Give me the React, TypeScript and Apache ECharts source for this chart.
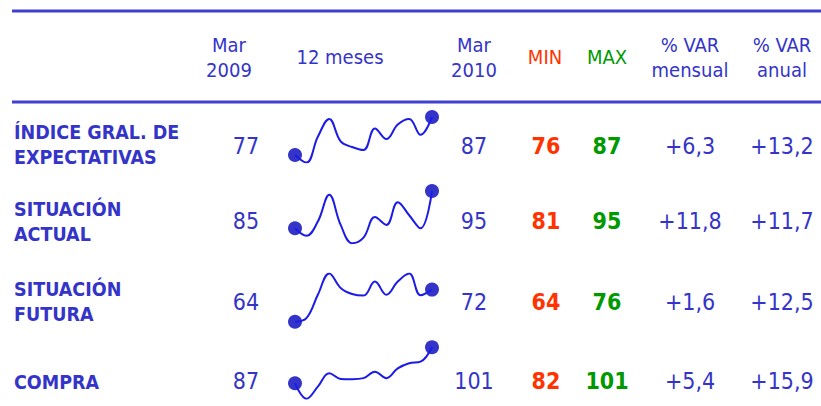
import React, { useEffect, useRef } from "react";
import * as echarts from "echarts";

const months = ["Mar 09", "Abr 09", "May 09", "Jun 09", "Jul 09", "Ago 09", "Sep 09", "Oct 09", "Nov 09", "Dic 09", "Ene 10", "Feb 10", "Mar 10"];
const indiceGeneral = [77, 75, 81.8, 86.5, 80.6, 79.1, 78.3, 84, 81.2, 85, 86.5, 82.3, 87];
const situacionActual = [85, 83, 86.8, 94, 85.9, 81, 82.5, 88, 85.9, 92, 88.5, 85, 95];
const situacionFutura = [64, 64.9, 70.7, 76, 72.4, 70.9, 70.5, 74, 70.7, 74, 76, 70.6, 72];
const compra = [87, 81, 85.7, 90.9, 88.7, 88.6, 89, 91.5, 89, 92.8, 94.8, 95.4, 101];

const rowLabels = ["ÍNDICE GRAL. DE\nEXPECTATIVAS", "SITUACIÓN\nACTUAL", "SITUACIÓN\nFUTURA", "COMPRA"];
const mar2009 = ["77", "85", "64", "87"];
const mar2010 = ["87", "95", "72", "101"];
const minVals = ["76", "81", "64", "82"];
const maxVals = ["87", "95", "76", "101"];
const varMensual = ["+6,3", "+11,8", "+1,6", "+5,4"];
const varAnual = ["+13,2", "+11,7", "+12,5", "+15,9"];
const headers = ["Mar\n2009", "12 meses", "Mar\n2010", "MIN", "MAX", "% VAR\nmensual", "% VAR\nanual"];

const BLUE = "#3434c8";
const LINE = "#1c1ce6";
const RED = "#ff3300";
const GREEN = "#009900";
const FONT = "'DejaVu Sans Condensed', 'DejaVu Sans', sans-serif";

export default function App() {
  const ref = useRef<HTMLDivElement>(null);
  useEffect(() => {
    document.body.style.margin = "0";
    const chart = echarts.init(ref.current!, null, { renderer: "svg" });
    const sparks = [indiceGeneral, situacionActual, situacionFutura, compra];
    // pixel top (max) and bottom (min) of each sparkline
    const spans = [
      [117, 162.6],
      [191, 243.2],
      [273.5, 321.7],
      [347.3, 398.7],
    ];
    const rowY = [146, 221, 302, 381];
    const labelY = [144.5, 221.5, 302, 382];
    const grids = spans.map(([t, b]) => ({ left: 295, right: 389, top: t, height: b - t }));
    const xAxes = sparks.map((_, i) => ({ type: "category", data: months, boundaryGap: false, gridIndex: i, show: false }));
    const yAxes = sparks.map((s, i) => ({ type: "value", gridIndex: i, show: false, min: Math.min(...s), max: Math.max(...s) }));
    const series: any[] = [];
    sparks.forEach((s, i) => {
      series.push({
        type: "line",
        xAxisIndex: i,
        yAxisIndex: i,
        data: s,
        smooth: 0.4,
        symbol: "none",
        lineStyle: { color: LINE, width: 2 },
      });
      series.push({
        type: "scatter",
        xAxisIndex: i,
        yAxisIndex: i,
        data: [[0, s[0]], [s.length - 1, s[s.length - 1]]],
        symbol: "circle",
        symbolSize: 14,
        itemStyle: { color: BLUE, opacity: 1 },
      });
    });

    const graphics: any[] = [];
    graphics.push({ type: "line", shape: { x1: 12, y1: 11, x2: 821, y2: 11 }, style: { stroke: "#3f3fd0", lineWidth: 3 } });
    graphics.push({ type: "line", shape: { x1: 12, y1: 102, x2: 821, y2: 102 }, style: { stroke: "#3f3fd0", lineWidth: 3 } });

    const headerX = [229, 340, 474, 545, 607, 690, 782];
    const headerColors = [BLUE, BLUE, BLUE, RED, GREEN, BLUE, BLUE];
    headers.forEach((h, i) => {
      graphics.push({
        type: "text",
        x: headerX[i],
        y: 57,
        style: { text: h, fill: headerColors[i], font: `20px ${FONT}`, align: "center", verticalAlign: "middle", lineHeight: 25 },
      });
    });

    const cols: [string[], number, string, boolean][] = [
      [mar2009, 246, BLUE, false],
      [mar2010, 474, BLUE, false],
      [minVals, 546, RED, true],
      [maxVals, 607, GREEN, true],
      [varMensual, 690, BLUE, false],
      [varAnual, 782, BLUE, false],
    ];
    rowLabels.forEach((lab, r) => {
      graphics.push({
        type: "text",
        x: 14,
        y: labelY[r],
        style: { text: lab, fill: BLUE, font: `bold 19.5px ${FONT}`, align: "left", verticalAlign: "middle", lineHeight: 25 },
      });
      cols.forEach(([arr, x, color, bold]) => {
        graphics.push({
          type: "text",
          x,
          y: rowY[r],
          style: { text: arr[r], fill: color, font: `${bold ? "bold " : ""}23px ${FONT}`, align: "center", verticalAlign: "middle" },
        });
      });
    });

    chart.setOption({
      animation: false,
      backgroundColor: "#ffffff",
      grid: grids,
      xAxis: xAxes,
      yAxis: yAxes,
      series,
      graphic: graphics,
    });
    return () => chart.dispose();
  }, []);
  return <div ref={ref} style={{ position: "absolute", left: 0, top: 0, width: 821, height: 406 }} />;
}
